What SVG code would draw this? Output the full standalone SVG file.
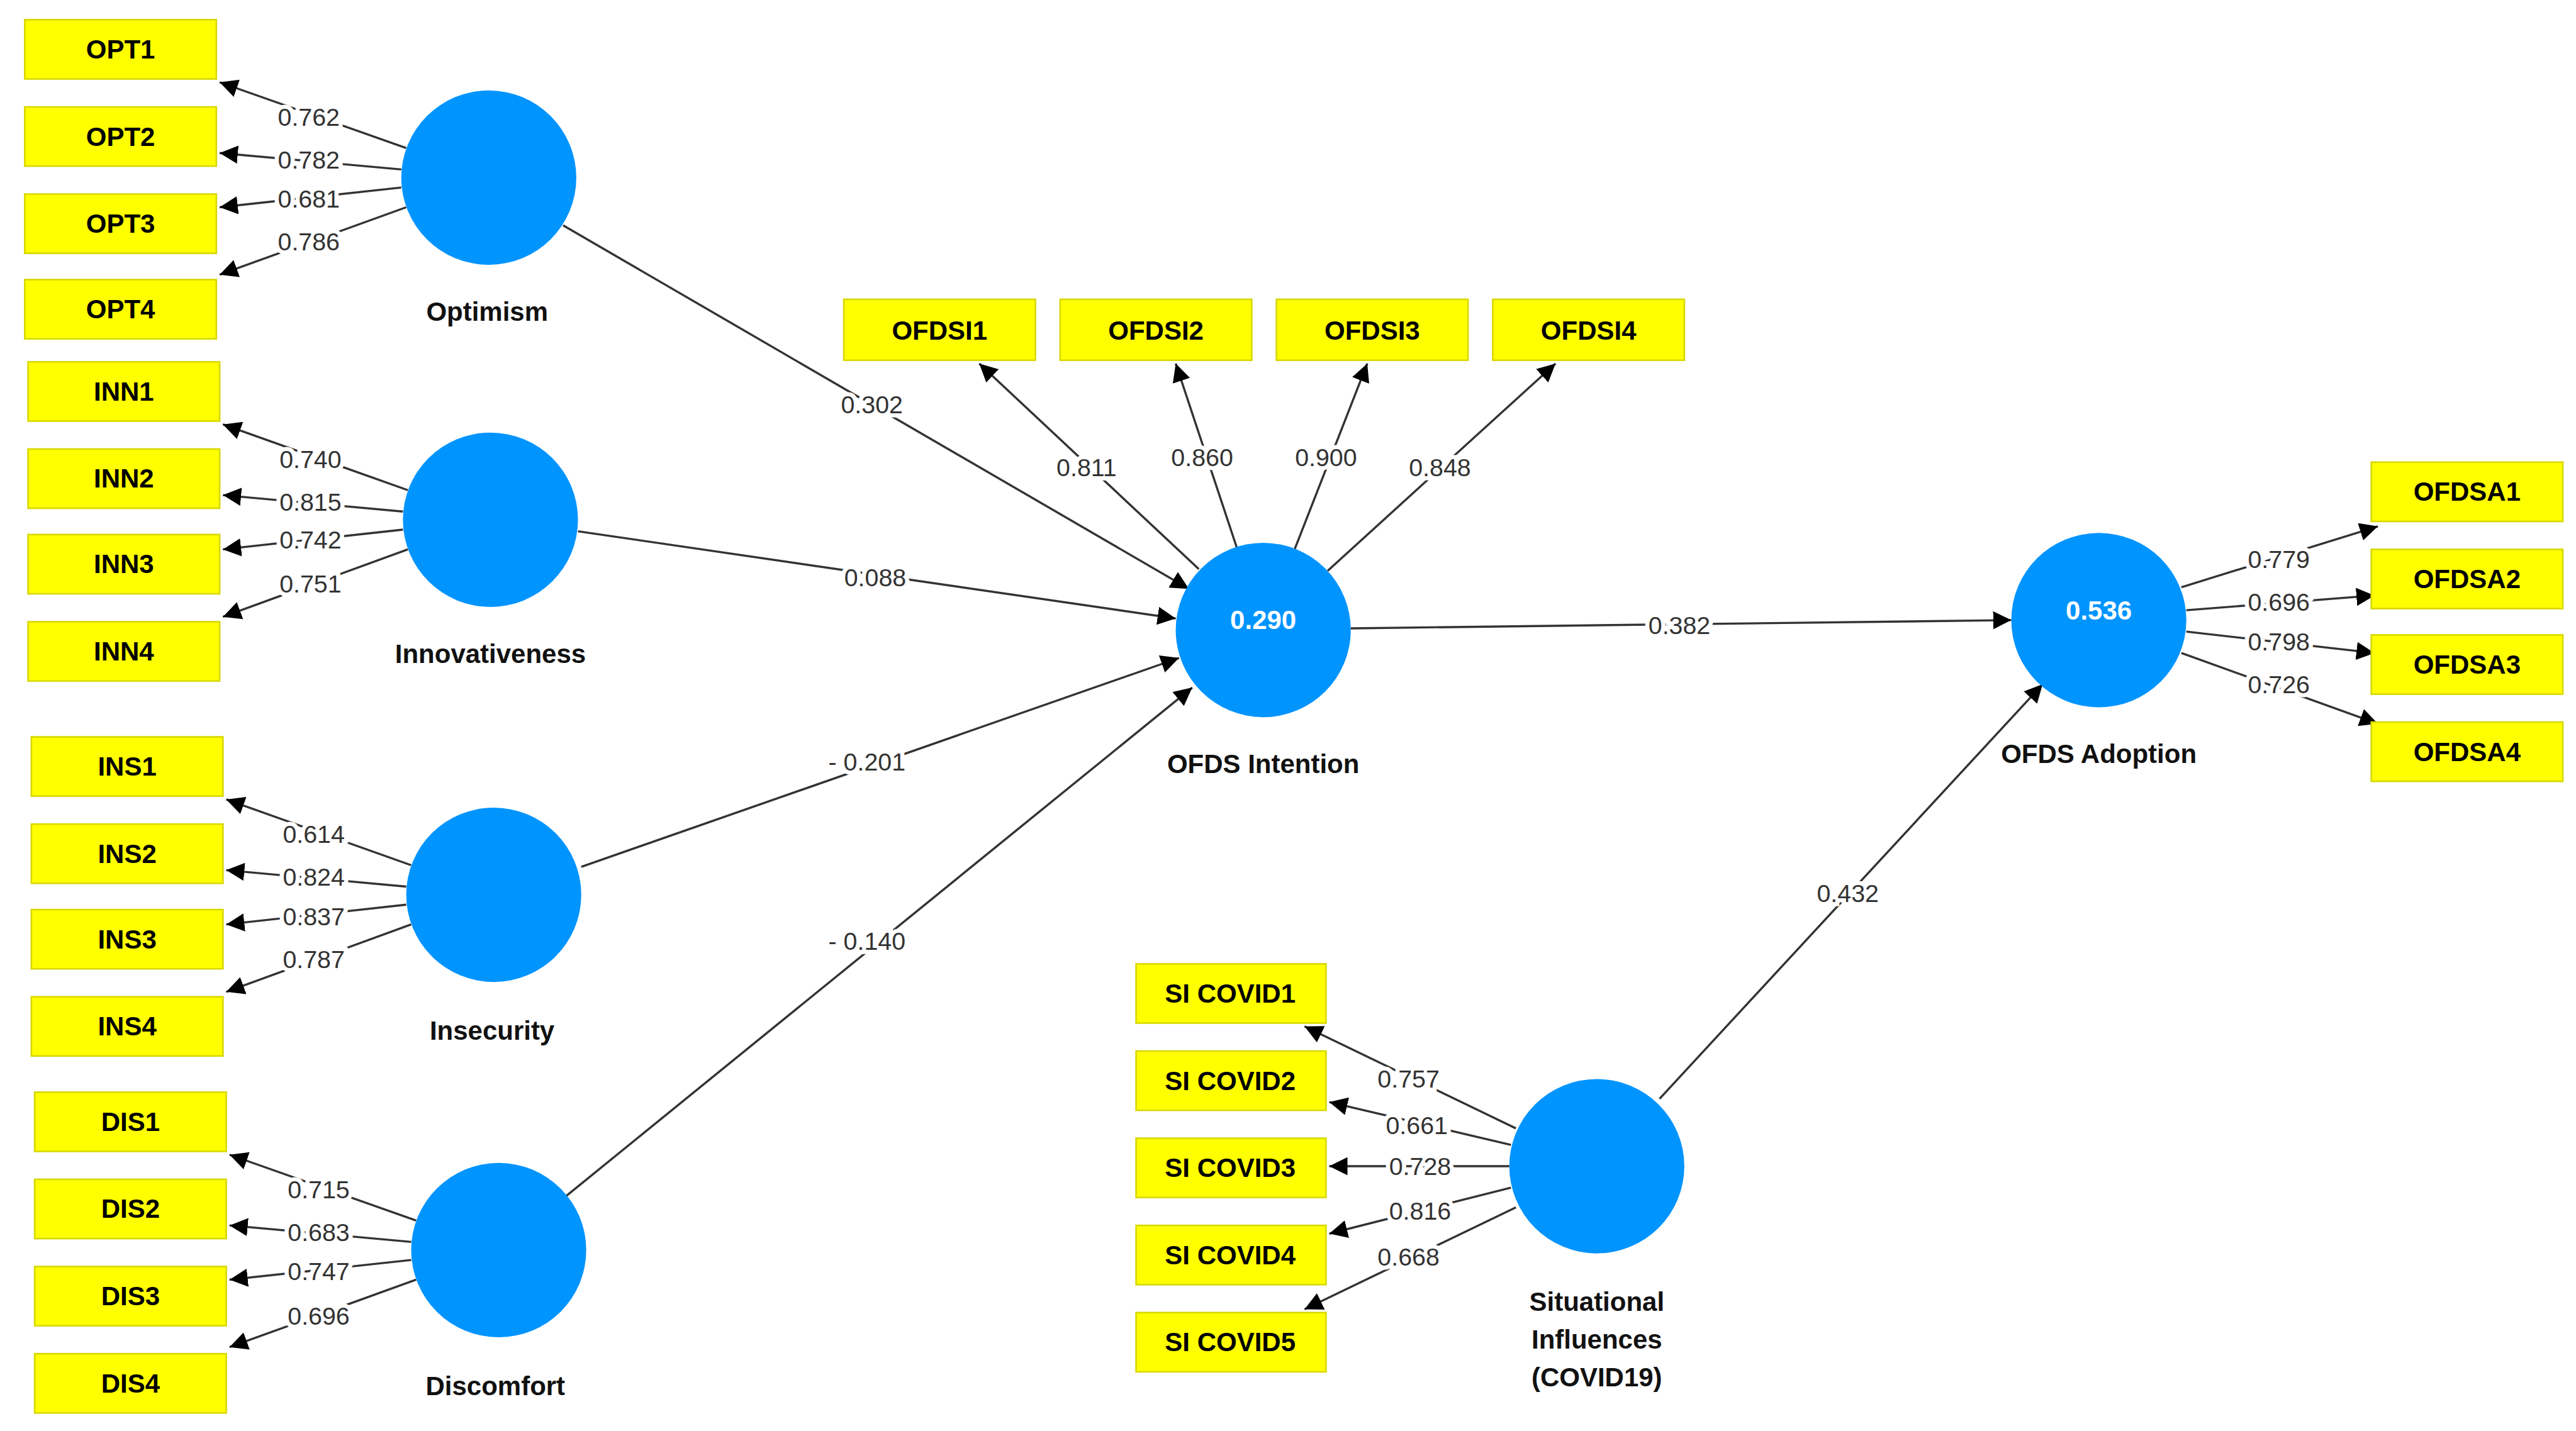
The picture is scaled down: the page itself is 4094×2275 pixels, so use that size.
<svg xmlns="http://www.w3.org/2000/svg" width="4094" height="2275" viewBox="0 0 4094 2275">
<style>
.box{fill:#ffff00;stroke:#d8d800;stroke-width:1}
.bt{font-family:"Liberation Sans",Arial,sans-serif;font-weight:bold;font-size:16px;fill:#000;text-anchor:middle;dominant-baseline:central}
.lv{fill:#0094ff}
.lt{font-family:"Liberation Sans",Arial,sans-serif;font-weight:bold;font-size:16px;fill:#111;text-anchor:middle}
.ct{font-family:"Liberation Sans",Arial,sans-serif;font-weight:bold;font-size:16px;fill:#fff;text-anchor:middle;dominant-baseline:central}
.ln{stroke:#333;stroke-width:1.3;fill:none;marker-end:url(#ah)}
.n{font-family:"Liberation Sans",Arial,sans-serif;font-size:15px;fill:#333;text-anchor:middle;dominant-baseline:central;paint-order:stroke;stroke:#fff;stroke-width:5px}
</style>
<defs><marker id="ah" viewBox="0 0 10 10" refX="10" refY="5" markerWidth="11" markerHeight="11" markerUnits="userSpaceOnUse" orient="auto"><path d="M0,0L10,5L0,10z" fill="#000"/></marker></defs>
<rect width="4094" height="2275" fill="#fff"/>
<g transform="scale(2.6244 2.615)">
<g id="connectors">
<line class="ln" x1="246" y1="90" x2="133" y2="50"/><line class="ln" x1="243" y1="103" x2="133" y2="93"/><line class="ln" x1="243" y1="114" x2="133" y2="126"/><line class="ln" x1="246" y1="126" x2="133" y2="167"/>
<line class="ln" x1="247" y1="298" x2="135" y2="258"/><line class="ln" x1="244" y1="311" x2="135" y2="301"/><line class="ln" x1="244" y1="322" x2="135" y2="334"/><line class="ln" x1="247" y1="334" x2="135" y2="375"/>
<line class="ln" x1="249" y1="526" x2="137" y2="486"/><line class="ln" x1="246" y1="539" x2="137" y2="529"/><line class="ln" x1="246" y1="550" x2="137" y2="562"/><line class="ln" x1="249" y1="562" x2="137" y2="603"/>
<line class="ln" x1="252" y1="742" x2="139" y2="702"/><line class="ln" x1="249" y1="755" x2="139" y2="745"/><line class="ln" x1="249" y1="766" x2="139" y2="778"/><line class="ln" x1="252" y1="778" x2="139" y2="819"/>
<line class="ln" x1="918" y1="686" x2="790" y2="624"/><line class="ln" x1="915" y1="696" x2="805" y2="670"/><line class="ln" x1="914" y1="709" x2="805" y2="709"/><line class="ln" x1="915" y1="722" x2="805" y2="750"/><line class="ln" x1="918" y1="734" x2="790" y2="796"/>
<line class="ln" x1="726" y1="346" x2="593" y2="221"/><line class="ln" x1="749" y1="333" x2="712" y2="221"/><line class="ln" x1="784" y1="334" x2="828" y2="221"/><line class="ln" x1="804" y1="347" x2="942" y2="221"/>
<line class="ln" x1="1321" y1="357" x2="1440" y2="320"/><line class="ln" x1="1324" y1="371" x2="1438" y2="362"/><line class="ln" x1="1324" y1="384" x2="1438" y2="397"/><line class="ln" x1="1321" y1="397" x2="1440" y2="440"/>
<line class="ln" x1="341" y1="137" x2="720" y2="358"/><line class="ln" x1="350" y1="323" x2="712" y2="376"/><line class="ln" x1="352" y1="527" x2="714" y2="400"/><line class="ln" x1="343" y1="727" x2="722" y2="418"/>
<line class="ln" x1="818" y1="382" x2="1218" y2="377"/><line class="ln" x1="1005" y1="668" x2="1237" y2="416"/>
<text class="n" x="187" y="71">0.762</text><text class="n" x="187" y="97">0.782</text><text class="n" x="187" y="121">0.681</text><text class="n" x="187" y="147">0.786</text>
<text class="n" x="188" y="279">0.740</text><text class="n" x="188" y="305">0.815</text><text class="n" x="188" y="328">0.742</text><text class="n" x="188" y="355">0.751</text>
<text class="n" x="190" y="507">0.614</text><text class="n" x="190" y="533">0.824</text><text class="n" x="190" y="557">0.837</text><text class="n" x="190" y="583">0.787</text>
<text class="n" x="193" y="723">0.715</text><text class="n" x="193" y="749">0.683</text><text class="n" x="193" y="773">0.747</text><text class="n" x="193" y="800">0.696</text>
<text class="n" x="853" y="656">0.757</text><text class="n" x="858" y="684">0.661</text><text class="n" x="860" y="709">0.728</text><text class="n" x="860" y="736">0.816</text><text class="n" x="853" y="764">0.668</text>
<text class="n" x="658" y="284">0.811</text><text class="n" x="728" y="278">0.860</text><text class="n" x="803" y="278">0.900</text><text class="n" x="872" y="284">0.848</text>
<text class="n" x="1380" y="340">0.779</text><text class="n" x="1380" y="366">0.696</text><text class="n" x="1380" y="390">0.798</text><text class="n" x="1380" y="416">0.726</text>
<text class="n" x="528" y="246">0.302</text><text class="n" x="530" y="351">0.088</text><text class="n" x="525" y="463">- 0.201</text><text class="n" x="525" y="572">- 0.140</text><text class="n" x="1017" y="380">0.382</text><text class="n" x="1119" y="543">0.432</text>
</g>
<g id="OPT1"><rect class="box" x="15" y="12" width="116" height="36"/><text class="bt" x="73" y="30">OPT1</text></g>
<g id="OPT2"><rect class="box" x="15" y="65" width="116" height="36"/><text class="bt" x="73" y="83">OPT2</text></g>
<g id="OPT3"><rect class="box" x="15" y="118" width="116" height="36"/><text class="bt" x="73" y="136">OPT3</text></g>
<g id="OPT4"><rect class="box" x="15" y="170" width="116" height="36"/><text class="bt" x="73" y="188">OPT4</text></g>
<g id="INN1"><rect class="box" x="17" y="220" width="116" height="36"/><text class="bt" x="75" y="238">INN1</text></g>
<g id="INN2"><rect class="box" x="17" y="273" width="116" height="36"/><text class="bt" x="75" y="291">INN2</text></g>
<g id="INN3"><rect class="box" x="17" y="325" width="116" height="36"/><text class="bt" x="75" y="343">INN3</text></g>
<g id="INN4"><rect class="box" x="17" y="378" width="116" height="36"/><text class="bt" x="75" y="396">INN4</text></g>
<g id="INS1"><rect class="box" x="19" y="448" width="116" height="36"/><text class="bt" x="77" y="466">INS1</text></g>
<g id="INS2"><rect class="box" x="19" y="501" width="116" height="36"/><text class="bt" x="77" y="519">INS2</text></g>
<g id="INS3"><rect class="box" x="19" y="553" width="116" height="36"/><text class="bt" x="77" y="571">INS3</text></g>
<g id="INS4"><rect class="box" x="19" y="606" width="116" height="36"/><text class="bt" x="77" y="624">INS4</text></g>
<g id="DIS1"><rect class="box" x="21" y="664" width="116" height="36"/><text class="bt" x="79" y="682">DIS1</text></g>
<g id="DIS2"><rect class="box" x="21" y="717" width="116" height="36"/><text class="bt" x="79" y="735">DIS2</text></g>
<g id="DIS3"><rect class="box" x="21" y="770" width="116" height="36"/><text class="bt" x="79" y="788">DIS3</text></g>
<g id="DIS4"><rect class="box" x="21" y="823" width="116" height="36"/><text class="bt" x="79" y="841">DIS4</text></g>
<g id="OFDSI1"><rect class="box" x="511" y="182" width="116" height="37"/><text class="bt" x="569" y="201">OFDSI1</text></g>
<g id="OFDSI2"><rect class="box" x="642" y="182" width="116" height="37"/><text class="bt" x="700" y="201">OFDSI2</text></g>
<g id="OFDSI3"><rect class="box" x="773" y="182" width="116" height="37"/><text class="bt" x="831" y="201">OFDSI3</text></g>
<g id="OFDSI4"><rect class="box" x="904" y="182" width="116" height="37"/><text class="bt" x="962" y="201">OFDSI4</text></g>
<g id="OFDSA1"><rect class="box" x="1436" y="281" width="116" height="36"/><text class="bt" x="1494" y="299">OFDSA1</text></g>
<g id="OFDSA2"><rect class="box" x="1436" y="334" width="116" height="36"/><text class="bt" x="1494" y="352">OFDSA2</text></g>
<g id="OFDSA3"><rect class="box" x="1436" y="386" width="116" height="36"/><text class="bt" x="1494" y="404">OFDSA3</text></g>
<g id="OFDSA4"><rect class="box" x="1436" y="439" width="116" height="36"/><text class="bt" x="1494" y="457">OFDSA4</text></g>
<g id="SICOVID1"><rect class="box" x="688" y="586" width="115" height="36"/><text class="bt" x="745" y="604">SI COVID1</text></g>
<g id="SICOVID2"><rect class="box" x="688" y="639" width="115" height="36"/><text class="bt" x="745" y="657">SI COVID2</text></g>
<g id="SICOVID3"><rect class="box" x="688" y="692" width="115" height="36"/><text class="bt" x="745" y="710">SI COVID3</text></g>
<g id="SICOVID4"><rect class="box" x="688" y="745" width="115" height="36"/><text class="bt" x="745" y="763">SI COVID4</text></g>
<g id="SICOVID5"><rect class="box" x="688" y="798" width="115" height="36"/><text class="bt" x="745" y="816">SI COVID5</text></g>
<g id="Optimism"><circle class="lv" cx="296" cy="108" r="53"/><text class="lt" x="295" y="195">Optimism</text></g>
<g id="Innovativeness"><circle class="lv" cx="297" cy="316" r="53"/><text class="lt" x="297" y="403">Innovativeness</text></g>
<g id="Insecurity"><circle class="lv" cx="299" cy="544" r="53"/><text class="lt" x="298" y="632">Insecurity</text></g>
<g id="Discomfort"><circle class="lv" cx="302" cy="760" r="53"/><text class="lt" x="300" y="848">Discomfort</text></g>
<g id="OFDSIntention"><circle class="lv" cx="765" cy="383" r="53"/><text class="ct" x="765" y="377">0.290</text><text class="lt" x="765" y="470">OFDS Intention</text></g>
<g id="OFDSAdoption"><circle class="lv" cx="1271" cy="377" r="53"/><text class="ct" x="1271" y="371">0.536</text><text class="lt" x="1271" y="464">OFDS Adoption</text></g>
<g id="SituationalInfluences"><circle class="lv" cx="967" cy="709" r="53"/><text class="lt" x="967" y="797">Situational</text><text class="lt" x="967" y="820">Influences</text><text class="lt" x="967" y="843">(COVID19)</text></g>
</g>
</svg>
